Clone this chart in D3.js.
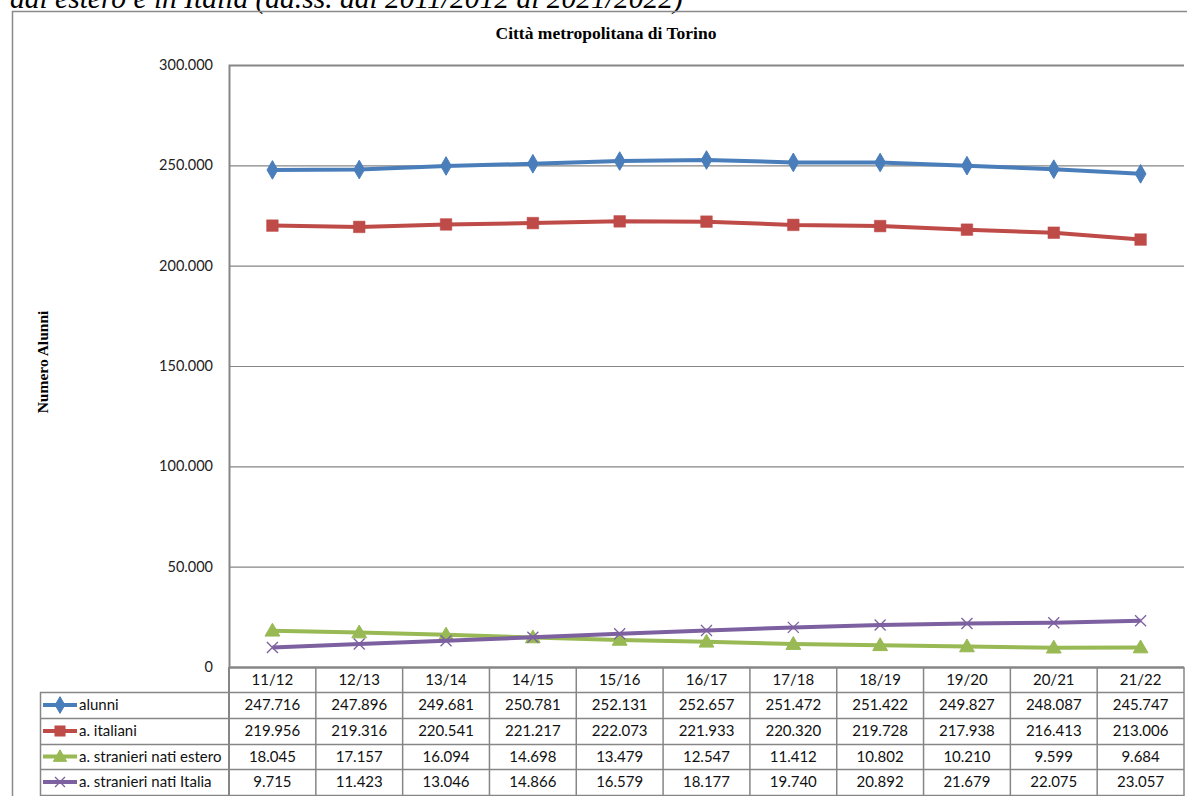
<!DOCTYPE html>
<html>
<head>
<meta charset="utf-8">
<script src="https://cdn.jsdelivr.net/npm/d3@7"></script>
<style>
  html, body { margin: 0; padding: 0; background: #fff; overflow: hidden; }
  svg { display: block; }
</style>
</head>
<body>
<svg id="chart" width="1187" height="796"></svg>
<script>
// ---- data ----
const categories = ["11/12","12/13","13/14","14/15","15/16","16/17","17/18","18/19","19/20","20/21","21/22"];
const alunni   = [247716,247896,249681,250781,252131,252657,251472,251422,249827,248087,245747];
const italiani = [219956,219316,220541,221217,222073,221933,220320,219728,217938,216413,213006];
const stranieriEstero = [18045,17157,16094,14698,13479,12547,11412,10802,10210,9599,9684];
const stranieriItalia = [9715,11423,13046,14866,16579,18177,19740,20892,21679,22075,23057];
const seriesNames = ["alunni","a. italiani","a. stranieri nati estero","a. stranieri nati Italia"];
const yTicks = [0,50000,100000,150000,200000,250000,300000];
const chartTitle = "Città metropolitana di Torino";
const yAxisTitle = "Numero Alunni";
const headingText = "dal estero e in Italia (aa.ss. dal 2011/2012 al 2021/2022)";

const seriesValues = [alunni, italiani, stranieriEstero, stranieriItalia];
const colors = ["#4A7EBB","#BE4B48","#98B954","#7D60A0"];
const symbols = ["diamond","square","triangle","x"];

const locale = d3.formatLocale({decimal: ",", thousands: ".", grouping: [3], currency: ["", ""]});
const fmt = locale.format(",d");

const svg = d3.select("#chart");
const W = 1187, H = 796;
const plotL = 229, plotR = 1184, plotT = 65, plotB = 667;
const gridCol = "#868686";
const sans = "Lato, 'Open Sans', sans-serif";
const serif = "'Liberation Serif', 'Times New Roman', serif";

const x = d3.scaleBand().domain(categories).range([plotL, plotR]).padding(0);
const y = d3.scaleLinear().domain([0, 300000]).range([plotB, plotT]);

// heading (partially cut at top, as in the source page)
svg.append("text")
  .attr("x", 10).attr("y", 8)
  .attr("font-family", serif).attr("font-style", "italic")
  .attr("font-size", 29.5).attr("fill", "#000")
  .text(headingText);

// outer frame
svg.append("path")
  .attr("d", `M12.5,${H+5} L12.5,11.5 L${W+5},11.5`)
  .attr("fill", "none").attr("stroke", "#8a8a8a").attr("stroke-width", 1.5);

// chart title
svg.append("text")
  .attr("x", 606).attr("y", 39)
  .attr("text-anchor", "middle")
  .attr("font-family", serif).attr("font-weight", "bold")
  .attr("font-size", 17.5).attr("fill", "#000")
  .text(chartTitle);

// y axis title
svg.append("text")
  .attr("transform", "translate(48,362) rotate(-90)")
  .attr("text-anchor", "middle")
  .attr("font-family", serif).attr("font-weight", "bold")
  .attr("font-size", 15.5).attr("fill", "#000")
  .text(yAxisTitle);

// gridlines + axis via d3 axis
const yAxis = d3.axisLeft(y).tickValues(yTicks).tickSize(-(plotR - plotL)).tickPadding(16).tickFormat(d => fmt(d));
const gy = svg.append("g").attr("transform", `translate(${plotL},0)`).call(yAxis);
gy.select(".domain").attr("stroke", gridCol).attr("stroke-width", 2);
gy.selectAll(".tick line").attr("stroke", gridCol).attr("stroke-width", 1.2);
gy.selectAll(".tick text")
  .attr("font-family", sans).attr("font-size", 14.5).attr("fill", "#222")
  .attr("x", -16);

// x axis line
svg.append("line")
  .attr("x1", plotL).attr("x2", plotR).attr("y1", plotB + 0.5).attr("y2", plotB + 0.5)
  .attr("stroke", gridCol).attr("stroke-width", 2);

// ---- data table ----
const rowTops = [667, 692, 718, 744, 769, 795];
const tableL = 40;
const tbl = svg.append("g");
rowTops.slice(1).forEach(ry => {
  tbl.append("line").attr("x1", tableL).attr("x2", plotR).attr("y1", ry + 0.5).attr("y2", ry + 0.5)
    .attr("stroke", gridCol).attr("stroke-width", 1.5);
});
tbl.append("line").attr("x1", tableL + 0.5).attr("x2", tableL + 0.5).attr("y1", rowTops[1]).attr("y2", H + 2)
  .attr("stroke", gridCol).attr("stroke-width", 1.5);
tbl.append("line").attr("x1", plotL).attr("x2", plotL).attr("y1", plotB).attr("y2", H + 2)
  .attr("stroke", gridCol).attr("stroke-width", 2);
categories.forEach(c => {
  const xr = x(c) + x.bandwidth();
  tbl.append("line").attr("x1", xr).attr("x2", xr).attr("y1", plotB).attr("y2", H + 2)
    .attr("stroke", gridCol).attr("stroke-width", 1.5);
});
tbl.selectAll("text.cat").data(categories).enter().append("text")
  .attr("class", "cat")
  .attr("x", d => x(d) + x.bandwidth() / 2)
  .attr("y", (rowTops[0] + rowTops[1]) / 2 + 5)
  .attr("text-anchor", "middle")
  .attr("font-family", sans).attr("font-size", 15).attr("fill", "#111")
  .text(d => d);

function drawSymbol(g, type, cx, cy, color, scale) {
  const s = scale || 1;
  if (type === "diamond") {
    g.append("path").attr("d", d3.symbol(d3.symbolDiamond, 100 * s * s)()).attr("transform", `translate(${cx},${cy})`)
      .attr("fill", color).attr("stroke", color).attr("stroke-width", 1);
  } else if (type === "square") {
    g.append("path").attr("d", d3.symbol(d3.symbolSquare, 135 * s * s)()).attr("transform", `translate(${cx},${cy})`)
      .attr("fill", color).attr("stroke", color).attr("stroke-width", 0.5);
  } else if (type === "triangle") {
    g.append("path").attr("d", d3.symbol(d3.symbolTriangle, 95 * s * s)()).attr("transform", `translate(${cx},${cy + 1})`)
      .attr("fill", color).attr("stroke", color).attr("stroke-width", 1);
  } else {
    const r = 5.5 * s;
    g.append("path").attr("d", `M${-r},${-r}L${r},${r}M${-r},${r}L${r},${-r}`).attr("transform", `translate(${cx},${cy})`)
      .attr("fill", "none").attr("stroke", color).attr("stroke-width", 1.3);
  }
}

seriesValues.forEach((vals, i) => {
  const top = rowTops[i + 1], bot = rowTops[i + 2];
  const cy = (top + bot) / 2;
  const row = tbl.append("g");
  row.append("line").attr("x1", 43).attr("x2", 77).attr("y1", cy).attr("y2", cy)
    .attr("stroke", colors[i]).attr("stroke-width", 4);
  drawSymbol(row, symbols[i], 60, cy, colors[i], 0.9);
  row.append("text").attr("x", 79).attr("y", cy + 5)
    .attr("font-family", sans).attr("font-size", 15).attr("fill", "#111")
    .text(seriesNames[i]);
  row.selectAll("text.v").data(vals).enter().append("text")
    .attr("class", "v")
    .attr("x", (d, j) => x(categories[j]) + x.bandwidth() / 2)
    .attr("y", cy + 5)
    .attr("text-anchor", "middle")
    .attr("font-family", sans).attr("font-size", 15).attr("fill", "#111")
    .text(d => fmt(d));
});

// ---- lines and markers ----
const line = d3.line().x((d, j) => x(categories[j]) + x.bandwidth() / 2).y(d => y(d));
seriesValues.forEach((vals, i) => {
  const g = svg.append("g");
  g.append("path").datum(vals).attr("d", line)
    .attr("fill", "none").attr("stroke", colors[i]).attr("stroke-width", 4)
    .attr("stroke-linejoin", "round");
  vals.forEach((v, j) => drawSymbol(g, symbols[i], x(categories[j]) + x.bandwidth() / 2, y(v), colors[i], 1));
});
</script>
</body>
</html>
